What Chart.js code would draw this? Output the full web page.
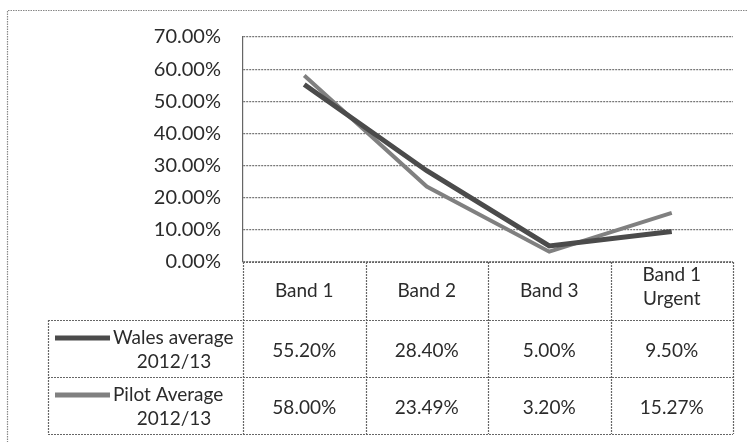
<!DOCTYPE html>
<html>
<head>
<meta charset="utf-8">
<script src="https://cdn.jsdelivr.net/npm/chart.js@4/dist/chart.umd.min.js"></script>
<style>
html,body{margin:0;padding:0;background:#fff;}
#wrap{width:748px;height:442px;position:relative;}
</style>
</head>
<body>
<div id="wrap"><canvas id="c" width="748" height="442"></canvas></div>
<script>
const categories = [["Band 1"], ["Band 2"], ["Band 3"], ["Band 1", "Urgent"]];
const seriesNames = [["Wales average", "2012/13"], ["Pilot Average", "2012/13"]];
const walesValues = [55.20, 28.40, 5.00, 9.50];
const pilotValues = [58.00, 23.49, 3.20, 15.27];
const walesLabels = ["55.20%", "28.40%", "5.00%", "9.50%"];
const pilotLabels = ["58.00%", "23.49%", "3.20%", "15.27%"];
const yTicks = [0, 10, 20, 30, 40, 50, 60, 70];

const TEXT = '#2b2b2b';
const GRID = '#777';
const colors = ['#4b4b4b', '#808080'];

const tablePlugin = {
  id: 'dataTable',
  afterDraw(chart) {
    const ctx = chart.ctx;
    const xs = chart.scales.x;
    const area = chart.chartArea;
    const n = categories.length;
    const step = xs.getPixelForValue(1) - xs.getPixelForValue(0);
    const left = area.left, right = area.right;
    const legendLeft = 48;
    const headTop = area.bottom, headH = 58, rowH = 57;
    const r1 = headTop + headH, r2 = r1 + rowH, r3 = r2 + rowH;
    ctx.save();
    // outer dotted frame
    ctx.strokeStyle = '#888';
    ctx.lineWidth = 1.2;
    ctx.setLineDash([1.5, 1]);
    ctx.beginPath();
    ctx.moveTo(7.5, 460); ctx.lineTo(7.5, 10.5); ctx.lineTo(760, 10.5);
    ctx.stroke();
    // table grid
    ctx.strokeStyle = '#666';
    ctx.lineWidth = 1.2;
    ctx.setLineDash([2, 1]);
    ctx.beginPath();
    ctx.moveTo(left, headTop + 0.5); ctx.lineTo(right, headTop + 0.5);
    ctx.moveTo(legendLeft, r1 + 0.5); ctx.lineTo(right, r1 + 0.5);
    ctx.moveTo(legendLeft, r2 + 0.5); ctx.lineTo(right, r2 + 0.5);
    ctx.moveTo(legendLeft, r3 + 0.5); ctx.lineTo(right, r3 + 0.5);
    ctx.moveTo(legendLeft + 0.5, r1); ctx.lineTo(legendLeft + 0.5, r3);
    for (let i = 0; i <= n; i++) {
      const x = Math.round(xs.getPixelForValue(i) - step / 2) + 0.5;
      ctx.moveTo(x, headTop); ctx.lineTo(x, r3);
    }
    ctx.stroke();
    ctx.setLineDash([]);
    // header text
    ctx.fillStyle = TEXT;
    ctx.font = '19px Lato';
    ctx.textAlign = 'center';
    ctx.textBaseline = 'middle';
    categories.forEach((lines, i) => {
      const cx = xs.getPixelForValue(i);
      const cy = lines.length > 1 ? headTop + 25 : headTop + headH / 2;
      const lh = 24;
      lines.forEach((t, j) => {
        ctx.fillText(t, cx, cy + (j - (lines.length - 1) / 2) * lh);
      });
    });
    // rows
    const rows = [[r1, walesLabels], [r2, pilotLabels]];
    rows.forEach(([top, labels], k) => {
      labels.forEach((t, i) => {
        ctx.fillText(t, xs.getPixelForValue(i), top + rowH / 2 + 2);
      });
      ctx.strokeStyle = colors[k];
      ctx.lineWidth = 5;
      ctx.beginPath();
      ctx.moveTo(55, top + 18); ctx.lineTo(110, top + 18);
      ctx.stroke();
      ctx.textAlign = 'left';
      ctx.fillText(seriesNames[k][0], 113, top + 18);
      ctx.textAlign = 'center';
      ctx.fillText(seriesNames[k][1], 174, top + 42);
    });
    ctx.restore();
  }
};

new Chart(document.getElementById('c'), {
  type: 'line',
  data: {
    labels: categories.map(c => c.join(' ')),
    datasets: [
      { label: seriesNames[0].join(' '), data: walesValues, borderColor: colors[0], borderWidth: 5, pointRadius: 0, tension: 0, fill: false },
      { label: seriesNames[1].join(' '), data: pilotValues, borderColor: colors[1], borderWidth: 4, pointRadius: 0, tension: 0, fill: false }
    ]
  },
  options: {
    responsive: false,
    animation: false,
    devicePixelRatio: 1,
    layout: { padding: { left: 0, top: 37, right: 15, bottom: 180 } },
    plugins: { legend: { display: false }, tooltip: { enabled: false }, title: { display: false } },
    scales: {
      x: { type: 'category', offset: true, display: false },
      y: {
        min: 0, max: 70,
        afterBuildTicks(scale) { scale.ticks = yTicks.map(v => ({ value: v })); },
        afterFit(scale) { scale.width = 243; },
        ticks: {
          padding: 22,
          color: TEXT,
          font: { family: 'Lato', size: 20 },
          callback: v => v.toFixed(2) + '%'
        },
        grid: { color: GRID, lineWidth: 1.2, drawTicks: false },
        border: { display: true, color: '#666', width: 1.2, dash: [2, 1] }
      }
    }
  },
  plugins: [tablePlugin]
});
</script>
</body>
</html>
